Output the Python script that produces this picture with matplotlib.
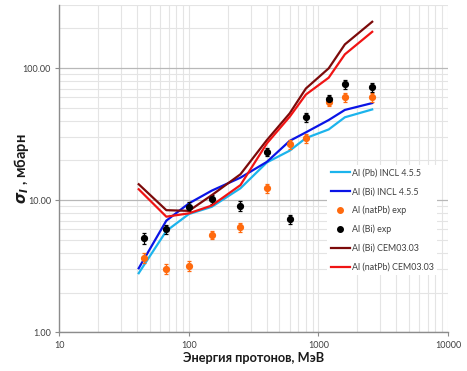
import matplotlib
matplotlib.use("Agg")
import matplotlib.pyplot as plt
from matplotlib.lines import Line2D
from matplotlib.ticker import FixedLocator, LogLocator, NullFormatter, FixedFormatter

plt.rcParams['font.family'] = ['Lato', 'DejaVu Sans']
plt.rcParams['mathtext.fontset'] = 'custom'
plt.rcParams['mathtext.it'] = 'DejaVu Sans:italic:bold'
plt.rcParams['mathtext.rm'] = 'DejaVu Sans:bold'

# Model calculations (proton energy, MeV -> cross section, mb)
energy_model = [41, 67, 100, 150, 250, 400, 600, 800, 1200, 1600, 2600]
pb_incl = [2.8, 5.85, 7.85, 8.9, 12.3, 19.3, 23.7, 29.5, 34.3, 42.4, 48.6]
bi_incl = [3.05, 7.0, 9.45, 11.8, 14.8, 19.5, 28.1, 32.6, 40.4, 48.2, 54.3]
bi_cem = [13.2, 8.4, 8.3, 10.9, 15.7, 28.5, 45.4, 70.0, 99.5, 151, 224]
natpb_cem = [12.1, 7.5, 7.95, 9.1, 13.0, 26.9, 42.8, 63.0, 84.5, 127, 188]

# Measured cross sections
energy_exp = [45, 67, 100, 150, 250, 400, 600, 800, 1200, 1600, 2600]
natpb_exp = [3.67, 3.01, 3.19, 5.47, 6.22, 12.3, 26.6, 29.3, 55.5, 60.5, 60.5]
natpb_err = [0.30, 0.25, 0.26, 0.42, 0.48, 0.95, 2.0, 2.3, 4.3, 4.7, 4.7]
bi_exp = [5.14, 6.04, 8.91, 10.2, 9.07, 23.1, 7.19, 42.3, 57.9, 75.5, 71.3]
bi_err = [0.48, 0.50, 0.70, 0.80, 0.72, 1.6, 0.55, 3.3, 4.5, 5.9, 5.6]

x_ticks = [10, 100, 1000, 10000]
x_tick_labels = ["10", "100", "1000", "10000"]
y_ticks = [1, 10, 100]
y_tick_labels = ["1.00", "10.00", "100.00"]

W, H = 467, 371
fig = plt.figure(figsize=(W / 100, H / 100), dpi=100)
ax_h = 332.3 - 5
ax_w = 448 - 59.3
ax = fig.add_axes([59.3 / W, 1 - 332.3 / H, ax_w / W, ax_h / H])

ax.set_xscale('log')
ax.set_yscale('log')
ax.set_xlim(10, 10000)
ax.set_ylim(1, 300)

ax.xaxis.set_major_locator(FixedLocator(x_ticks))
ax.xaxis.set_major_formatter(FixedFormatter(x_tick_labels))
ax.xaxis.set_minor_locator(LogLocator(base=10, subs=range(2, 10)))
ax.xaxis.set_minor_formatter(NullFormatter())
ax.yaxis.set_major_locator(FixedLocator(y_ticks))
ax.yaxis.set_major_formatter(FixedFormatter(y_tick_labels))
ax.yaxis.set_minor_locator(LogLocator(base=10, subs=range(2, 10)))
ax.yaxis.set_minor_formatter(NullFormatter())

ax.grid(which='both', axis='x', color='#e4e4e4', linewidth=0.8)
ax.grid(which='minor', axis='y', color='#e4e4e4', linewidth=0.8)
ax.grid(which='major', axis='y', color='#b8b8b8', linewidth=0.9)
ax.set_axisbelow(True)

for s in ('top', 'right'):
    ax.spines[s].set_visible(False)
for s in ('left', 'bottom'):
    ax.spines[s].set_color('#8c8c8c')
    ax.spines[s].set_linewidth(1.0)

ax.tick_params(which='major', length=3, color='#8c8c8c', labelsize=6.5,
               labelcolor='#404040', pad=3)
ax.tick_params(which='minor', length=0)

lw = 1.6
c_pb_incl, c_bi_incl = '#1cb4ec', '#0a14e6'
c_bi_cem, c_natpb_cem = '#7c0a0a', '#f01414'
c_natpb_exp, c_bi_exp = '#ff6a0e', '#000000'

ax.plot(energy_model, pb_incl, color=c_pb_incl, lw=lw)
ax.plot(energy_model, bi_incl, color=c_bi_incl, lw=lw)
ax.errorbar(energy_exp, natpb_exp, yerr=natpb_err, fmt='o', color=c_natpb_exp,
            ms=4.2, elinewidth=0.9, capsize=1.6, capthick=0.9)
ax.errorbar(energy_exp, bi_exp, yerr=bi_err, fmt='o', color=c_bi_exp,
            ms=4.2, elinewidth=0.9, capsize=1.6, capthick=0.9)
ax.plot(energy_model, bi_cem, color=c_bi_cem, lw=lw)
ax.plot(energy_model, natpb_cem, color=c_natpb_cem, lw=lw)

ax.set_xlabel('Энергия протонов, МэВ', fontsize=9.2, fontweight='bold',
              color='#1a1a1a')
ax.xaxis.set_label_coords(0.5, (332.3 - 358) / ax_h, transform=ax.transAxes)
ax.xaxis.label.set_va('center')
ax.set_ylabel(r'$\sigma_{I}$ , мбарн', fontsize=10.5, fontweight='bold',
              color='#1a1a1a')
ax.yaxis.set_label_coords((21 - 59.3) / ax_w, 0.5, transform=ax.transAxes)
ax.yaxis.label.set_va('center')

handles = [
    Line2D([], [], color=c_pb_incl, lw=lw),
    Line2D([], [], color=c_bi_incl, lw=lw),
    Line2D([], [], color=c_natpb_exp, marker='o', ls='none', ms=4),
    Line2D([], [], color=c_bi_exp, marker='o', ls='none', ms=4),
    Line2D([], [], color=c_bi_cem, lw=lw),
    Line2D([], [], color=c_natpb_cem, lw=lw),
]
labels = ['Al (Pb) INCL 4.5.5', 'Al (Bi) INCL 4.5.5', 'Al (natPb) exp',
          'Al (Bi) exp', 'Al (Bi) CEM03.03', 'Al (natPb) CEM03.03']
ax.legend(handles, labels, loc='upper left',
          bbox_to_anchor=(327 / W, 1 - 165 / H),
          bbox_transform=fig.transFigure, frameon=True,
          facecolor='white', edgecolor='none', framealpha=1,
          fontsize=6.4, handlelength=2.2, handletextpad=0.2,
          labelspacing=1.08, borderpad=0.4, borderaxespad=0,
          fancybox=False, labelcolor='#404040')

fig.savefig('out.png', dpi=100, facecolor='white')
